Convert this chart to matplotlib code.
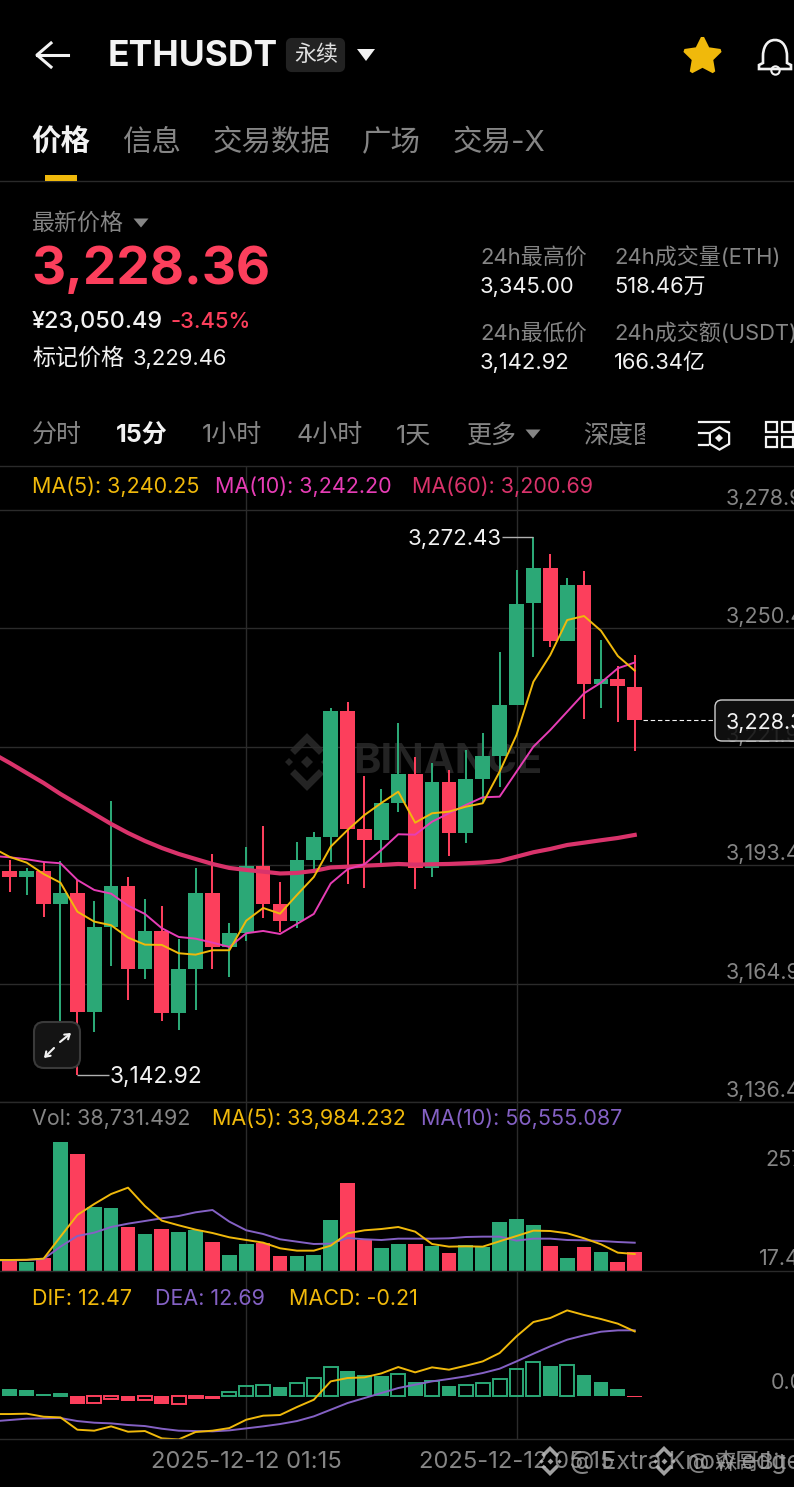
import numpy as np
import matplotlib
matplotlib.use("Agg")
import matplotlib.pyplot as plt
from matplotlib.patches import FancyBboxPatch, Rectangle, PathPatch
from matplotlib.path import Path

W, H = 794, 1487
FONT = ['Inter', 'Noto Sans CJK SC', 'DejaVu Sans']
plt.rcParams['font.family'] = FONT

GREEN = '#2BA876'
RED = '#FC3F5C'
GOLD = '#F0B90B'
PINK = '#E63DB5'
CRIMSON = '#D9336B'
PURPLE = '#8461C4'
GRID = '#2B2B2B'
GREY = '#858585'
WHITE = '#F2F2F2'

# first entry is the candle cut off by the left edge
candle_idx = np.arange(-1, 38)
opens = [3193.7, 3192.0, 3190.6, 3192.0, 3184.15, 3186.65, 3158.16, 3178.47, 3188.41, 3168.5,
         3177.58, 3157.92, 3168.5, 3186.8, 3173.8, 3177.17, 3193.22, 3184.15, 3179.98, 3194.59,
         3200.08, 3230.6, 3202.13, 3199.48, 3208.31, 3215.44, 3192.67, 3213.51, 3201.24, 3214.23,
         3219.77, 3231.9, 3256.6, 3265.01, 3247.44, 3260.92, 3237.02, 3238.3, 3236.4]
closes = [3192.0, 3190.6, 3192.0, 3184.15, 3186.65, 3158.16, 3178.47, 3188.41, 3168.5, 3177.58,
          3157.92, 3168.5, 3186.8, 3173.8, 3177.17, 3193.22, 3184.15, 3179.98, 3194.59, 3200.08,
          3230.6, 3202.13, 3199.48, 3208.31, 3215.44, 3192.67, 3213.51, 3201.24, 3214.23, 3219.77,
          3231.9, 3256.28, 3265.01, 3247.44, 3260.92, 3237.02, 3238.3, 3236.54, 3228.36]
highs = [3195.15, 3194.67, 3192.81, 3194.26, 3194.5, 3189.85, 3184.87, 3208.94, 3190.5, 3185.35,
         3183.52, 3175.58, 3192.81, 3196.04, 3179.58, 3197.87, 3202.85, 3189.37, 3198.93, 3201.33,
         3231.18, 3232.76, 3214.88, 3211.75, 3227.57, 3219.53, 3218.08, 3216.33, 3221.14, 3225.16,
         3244.8, 3264.46, 3272.43, 3268.24, 3262.46, 3264.22, 3247.61, 3241.43, 3244.0]
lows = [3189.85, 3186.96, 3186.24, 3181.02, 3148.53, 3142.92, 3153.2, 3169.23, 3160.97, 3166.03,
        3155.99, 3153.75, 3158.5, 3168.36, 3166.58, 3175.17, 3180.78, 3177.27, 3178.23, 3192.26,
        3194.11, 3188.82, 3188.0, 3193.63, 3206.29, 3187.61, 3190.65, 3195.63, 3198.68, 3208.38,
        3212.31, 3231.9, 3243.59, 3246.0, 3247.44, 3228.53, 3231.18, 3227.81, 3220.97]
ma5 = [3197.55, 3195.39, 3194.02, 3191.29, 3189.2, 3182.22, 3179.82, 3178.95, 3175.97, 3174.28,
       3174.21, 3172.21, 3171.87, 3172.93, 3172.93, 3180.06, 3183.11, 3181.74, 3186.24, 3190.57,
       3197.87, 3201.88, 3205.49, 3208.38, 3211.1, 3203.64, 3205.9, 3206.29, 3207.49, 3208.31,
       3215.92, 3224.75, 3237.57, 3244.0, 3252.42, 3253.39, 3249.85, 3243.76, 3240.25]
ma10 = [3195.63, 3195.31, 3194.83, 3194.18, 3193.87, 3189.85, 3187.44, 3186.55, 3183.67, 3181.67,
        3178.23, 3176.13, 3175.72, 3174.76, 3173.73, 3177.02, 3177.58, 3176.85, 3179.26, 3181.67,
        3189.01, 3192.43, 3193.63, 3197.07, 3200.85, 3200.75, 3203.88, 3205.9, 3207.9, 3209.75,
        3209.9, 3215.92, 3221.93, 3225.95, 3230.36, 3234.78, 3237.34, 3240.8, 3242.2]
ma60 = [3220.3, 3218.01, 3215.6, 3213.2, 3210.55, 3208.14, 3205.74, 3203.33, 3201.16, 3199.24,
        3197.55, 3196.11, 3194.9, 3193.7, 3192.74, 3192.26, 3191.85, 3191.41, 3191.54, 3192.02,
        3192.86, 3193.05, 3193.29, 3193.46, 3193.7, 3193.53, 3193.63, 3193.7, 3193.87, 3194.06,
        3194.42, 3195.46, 3196.52, 3197.31, 3198.27, 3198.83, 3199.41, 3199.96, 3200.69]

# volume, thousands
vol = [27, 19.3, 17.3, 26.7, 257.4, 233.3, 128.7, 125.4, 88, 74,
       84, 77.4, 81.4, 57.4, 31.3, 54.7, 55.4, 30, 29.3, 32.7,
       101.4, 175.4, 62, 45.4, 54, 53.4, 50, 36, 51.4, 48.7,
       98, 104.7, 92.7, 50.7, 26.7, 47.4, 38, 18.7, 38.73]
vol_ma5 = [22, 22, 22.5, 24.7, 68.7, 112, 134, 154, 166.7, 130,
           100.7, 91.4, 82.7, 76, 67.4, 62, 56.7, 45.4, 40.7, 40.7,
           50.7, 75.4, 81.4, 84, 88, 78.7, 54, 48.7, 49.4, 48.7,
           59.4, 70, 80.7, 80, 75.4, 65.4, 53.4, 36.7, 33.98]
vol_ma10 = [21.4, 21.4, 22, 24, 48.7, 70, 76.7, 88, 94.7, 100,
            105.4, 110, 117.4, 122, 98.7, 81.4, 74, 63.4, 58.7, 54,
            54.7, 66, 63.4, 62, 64.7, 64.7, 64.7, 65.4, 68, 68.7,
            68.7, 60.7, 64.7, 64.7, 62, 61.4, 60, 58, 56.56]

hist = [1.62, 1.23, 1.04, 0.39, 0.39, -1.62, -1.49, -0.58, -1.1, -0.91,
        -1.68, -1.68, -0.52, -0.55, 0.65, 1.81, 2.01, 1.68, 2.52, 3.36,
        5.63, 4.85, 3.95, 3.88, 4.14, 2.59, 2.78, 1.94, 2.14, 2.46,
        3.24, 5.18, 6.47, 5.76, 5.89, 3.95, 2.59, 1.36, -0.21]
dif = [-3.56, -3.56, -3.49, -4.08, -4.21, -6.6, -6.79, -5.95, -6.99, -6.86,
       -8.28, -8.48, -7.05, -6.79, -6.28, -4.66, -3.88, -3.75, -2.2, -0.78,
       2.78, 3.43, 3.56, 4.33, 5.56, 4.53, 5.5, 5.05, 5.82, 6.66,
       8.28, 11.52, 14.3, 15.08, 16.56, 15.66, 14.88, 13.98, 12.47]
dea = [-4.98, -4.72, -4.46, -4.4, -4.33, -4.92, -5.24, -5.37, -5.69, -5.89,
       -6.41, -6.79, -6.86, -6.92, -6.73, -6.34, -5.95, -5.5, -4.92, -4.01,
       -2.72, -1.42, -0.45, 0.52, 1.49, 2.14, 2.78, 3.24, 3.75, 4.4,
       5.24, 6.66, 8.15, 9.58, 10.87, 11.71, 12.42, 12.68, 12.69]

price_ticks = [3278.9, 3250.4, 3221.9, 3193.4, 3164.9, 3136.4]
price_labels = ['3,278.9', '3,250.4', '3,221.9', '3,193.4', '3,164.9', '3,136.4']
time_idx = [14, 30]
time_labels = ['2025-12-12 01:15', '2025-12-12 05:15']

opens, closes, highs, lows = map(np.array, (opens, closes, highs, lows))
up = closes >= opens
colors = np.where(up, GREEN, RED)

fig = plt.figure(figsize=(W / 100, H / 100), dpi=100, facecolor='black')


def pixel_axes(top, bottom, zorder):
    a = fig.add_axes([0, 1 - bottom / H, 1, (bottom - top) / H], zorder=zorder)
    a.patch.set_visible(False)
    a.set_axis_off()
    return a


def full_axes(zorder):
    a = pixel_axes(0, H, zorder)
    a.set_xlim(0, W)
    a.set_ylim(H, 0)
    return a


back = full_axes(0)
front = full_axes(5)


def txt(x, y, s, px, color=WHITE, weight='normal', ax=front, **kw):
    kw.setdefault('ha', 'left')
    return ax.text(x, y + 2, s, fontsize=px * 0.72, color=color, fontweight=weight,
                   va='center', family=FONT, **kw)


def tri(x, y, w, h, color):
    front.fill([x - w / 2, x + w / 2, x], [y - h / 2, y - h / 2, y + h / 2], color=color, lw=0)


def logo(a, x, y, s, color, zorder=1, alpha=1):
    """Binance mark, s is half the height"""
    opts = dict(color=color, alpha=alpha, zorder=zorder)
    for dx, dy, ms in [(0, 0, .32), (-.72, 0, .24), (.72, 0, .24)]:
        a.plot(x + dx * s, y + dy * s, 'D', ms=ms * s * .72, mew=0, **opts)
    lw = s * .2
    for sign in (-1, 1):
        a.plot([x - .48 * s, x, x + .48 * s],
               [y + sign * .48 * s, y + sign * .96 * s, y + sign * .48 * s],
               lw=lw, solid_joinstyle='miter', **opts)


# x position of a candle: 9.8 + 16.89 * i pixels
xlim = (-9.8 / 16.89, (W - 9.8) / 16.89)

# --- price panel
ax = pixel_axes(466, 1102, 1)
ax.set_xlim(*xlim)
ax.set_ylim(3136.4, 3289.5)
for p in price_ticks:
    ax.axhline(p, color=GRID, lw=1, zorder=0)
for t in time_idx:
    ax.axvline(t, color=GRID, lw=1, zorder=0)
ax.vlines(candle_idx, lows, highs, colors=colors, lw=1.45, zorder=2)
ax.bar(candle_idx, np.abs(closes - opens), bottom=np.minimum(opens, closes),
       width=0.87, color=colors, zorder=3)
ax.plot(candle_idx, ma60, color=CRIMSON, lw=3, zorder=4)
ax.plot(candle_idx, ma10, color=PINK, lw=1.4, zorder=5)
ax.plot(candle_idx, ma5, color=GOLD, lw=1.4, zorder=6)
ax.hlines(closes[-1], candle_idx[-1] + 0.47, 41.7, color=WHITE, lw=0.8,
          linestyles=(0, (4, 2.5)), zorder=3)
ax.hlines(highs.max(), 29.15, 31, color='#B0B0B0', lw=1, zorder=7)
ax.hlines(lows.min(), 4, 5.85, color='#B0B0B0', lw=1, zorder=7)
ax.annotate('3,272.43', xy=(31, highs.max()), xytext=(-32, -2), textcoords='offset pixels',
            color=WHITE, fontsize=16, ha='right', va='center', zorder=7)
ax.annotate('3,142.92', xy=(4, lows.min()), xytext=(32, -2), textcoords='offset pixels',
            color=WHITE, fontsize=16.3, ha='left', va='center', zorder=7)

# --- volume panel, 2k per pixel
ax_v = pixel_axes(1102, 1271, 1)
ax_v.set_xlim(*xlim)
ax_v.set_ylim(0, 338)
for t in time_idx:
    ax_v.axvline(t, color=GRID, lw=1, zorder=0)
ax_v.bar(candle_idx, vol, width=0.87, color=colors, zorder=2)
ax_v.plot(candle_idx, vol_ma10, color=PURPLE, lw=1.4, zorder=3)
ax_v.plot(candle_idx, vol_ma5, color=GOLD, lw=1.4, zorder=4)

# --- macd panel
ax_m = pixel_axes(1271, 1439.5, 1)
ax_m.set_xlim(*xlim)
ax_m.set_ylim(-8.5, 24.2)
for t in time_idx:
    ax_m.axvline(t, color=GRID, lw=1, zorder=0)
hist = np.array(hist)
rising = np.r_[False, hist[1:] >= hist[:-1]]
hist_colors = np.where(hist >= 0, GREEN, RED)
ax_m.bar(candle_idx[~rising], hist[~rising], width=0.87, color=hist_colors[~rising], zorder=2)
ax_m.bar(candle_idx[rising], hist[rising], width=0.82, facecolor='none',
         edgecolor=hist_colors[rising], lw=1.4, zorder=2)
ax_m.plot(candle_idx, dea, color=PURPLE, lw=1.4, zorder=3)
ax_m.plot(candle_idx, dif, color=GOLD, lw=1.4, zorder=4)

# panel separators
for y in (181, 466, 1102, 1271, 1439):
    front.plot([0, W], [y, y], color='#2A2A2A', lw=1, zorder=0)

# watermark behind the candles
logo(back, 307, 762, 25, '#242424')
txt(353, 760, 'BINANCE', 41.5, '#232323', 'bold', ax=back)

# --- header
front.plot([51, 37, 51], [43, 55, 67], color=WHITE, lw=2.2)
front.plot([37, 68], [55, 55], color=WHITE, lw=2.2)
txt(108, 55, 'ETHUSDT', 35.5, WHITE, 'bold')
front.add_patch(FancyBboxPatch((288, 40), 55, 30, boxstyle='round,pad=0,rounding_size=4',
                               fc='#222222', ec='#222222', lw=3))
txt(316, 53, '永续', 22, '#E0E0E0', ha='center')
tri(366, 55, 18, 12, WHITE)
front.plot(702, 56, marker=(5, 1, 0), color=GOLD, ms=27, mew=2.5, mec=GOLD, mfc=GOLD)
bell = Path([(775, 40), (766, 40), (763, 49), (763, 56), (763, 63), (759, 65), (759, 69),
             (791, 69), (791, 65), (787, 63), (787, 56), (787, 49), (784, 40), (775, 40)],
            [1, 4, 4, 4, 2, 2, 2, 2, 2, 2, 2, 4, 4, 4])
front.add_patch(PathPatch(bell, fc='none', ec=WHITE, lw=1.9))
front.plot(775, 70, 'o', mfc='none', mec=WHITE, ms=6, mew=1.5)

# --- tabs
for x, s, col, wt in [(31, '价格', WHITE, 'bold'), (122, '信息', GREY, 'normal'),
                      (213, '交易数据', GREY, 'normal'), (362, '广场', GREY, 'normal'),
                      (453, '交易-X', GREY, 'normal')]:
    txt(x, 141, s, 29.5, col, wt)
front.add_patch(Rectangle((45, 175), 32, 6, fc=GOLD, ec='none'))

# --- price block
txt(32, 222, '最新价格', 23, GREY)
tri(141, 223, 15, 9, GREY)
txt(31, 268, '3,228.36', 53, RED, 'bold')
txt(32, 320, '¥23,050.49', 23.5, WHITE, 'medium')
txt(171, 320, '-3.45%', 22, RED, 'medium')
txt(32, 357, '标记价格', 23, WHITE)
txt(133, 357, '3,229.46', 22, WHITE)

for x, y, s, col in [(480, 255, '24h最高价', GREY), (480, 285, '3,345.00', WHITE),
                     (480, 331, '24h最低价', GREY), (480, 361, '3,142.92', WHITE),
                     (614, 255, '24h成交量(ETH)', GREY), (614, 285, '518.46万', WHITE),
                     (614, 331, '24h成交额(USDT)', GREY), (614, 361, '166.34亿', WHITE)]:
    txt(x, y, s, 22, col)

# --- interval row
for x, s, col, wt in [(32, '分时', GREY, 'normal'), (116, '15分', WHITE, 'bold'),
                      (202, '1小时', GREY, 'normal'), (297, '4小时', GREY, 'normal'),
                      (396, '1天', GREY, 'normal'), (467, '更多', GREY, 'normal')]:
    txt(x, 434, s, 25, col, wt)
t = txt(583, 434, '深度图', 25, GREY, clip_on=True)
t.set_clip_path(Rectangle((0, 0), 645, H, transform=front.transData))
tri(533, 434, 15, 9, GREY)
for y, x0, x1 in [(422, 699, 729), (433, 699, 708), (445, 699, 708)]:
    front.plot([x0, x1], [y, y], color=WHITE, lw=1.6)
front.plot(719, 438, 'h', mfc='none', mec=WHITE, ms=16, mew=1.6)
front.plot(719, 438, 'D', color=WHITE, ms=4, mew=0)
for x in (766, 782):
    for y in (422, 437):
        front.add_patch(Rectangle((x, y), 11, 10, fc='none', ec=WHITE, lw=1.6))

# --- legends
for x, y, s, col in [(32, 485, 'MA(5): 3,240.25', GOLD), (215, 485, 'MA(10): 3,242.20', PINK),
                     (412, 485, 'MA(60): 3,200.69', CRIMSON),
                     (32, 1117, 'Vol: 38,731.492', GREY), (212, 1117, 'MA(5): 33,984.232', GOLD),
                     (421, 1117, 'MA(10): 56,555.087', PURPLE),
                     (32, 1297, 'DIF: 12.47', GOLD), (155, 1297, 'DEA: 12.69', PURPLE),
                     (289, 1297, 'MACD: -0.21', GOLD)]:
    txt(x, y, s, 21.5, col)

# --- axis labels, cut by the right edge like the app does
for p, s in zip(price_ticks, price_labels):
    y = 510 + (price_ticks[0] - p) * 4.155
    txt(726, y - 13, s, 21.5, GREY)
txt(765, 1158, '257', 21.5, GREY)
txt(759, 1257, '17.4', 21.5, GREY)
txt(771, 1381, '0.0', 21.5, GREY)
for i, s in zip(time_idx, time_labels):
    txt(9.8 + 16.89 * i, 1460, s, 23.7, GREY, ha='center')

# current price tag
front.add_patch(FancyBboxPatch((715, 700), 100, 41, boxstyle='round,pad=0,rounding_size=7',
                               fc=(.07, .07, .07, .85), ec='#CFCFCF', lw=1, zorder=6))
txt(726, 721, '3,228.3', 21.5, WHITE, zorder=7)

# expand button
front.add_patch(FancyBboxPatch((34, 1022), 46, 46, boxstyle='round,pad=0,rounding_size=10',
                               fc='#141414', ec='#3A3A3A', lw=1.5, zorder=6))
for (x0, y0, x1, y1) in [(60, 1042, 71, 1033), (54, 1048, 44, 1058)]:
    front.annotate('', xy=(x1, y1), xytext=(x0, y0), zorder=7,
                   arrowprops=dict(arrowstyle='->,head_length=.32,head_width=.22', color=WHITE,
                                   lw=1.5, shrinkA=0, shrinkB=0))

# re-shared post watermark
logo(front, 550, 1461, 13, '#BDBDBD', zorder=7, alpha=.85)
txt(570, 1460, '@ Extra Knowledge', 25, '#A8A8A8', zorder=7, alpha=.8)
logo(front, 664, 1461, 13, '#BDBDBD', zorder=7, alpha=.85)
txt(688, 1460, '@ 森哥Bit', 22, '#A8A8A8', zorder=7, alpha=.8)

fig.savefig('out.png', dpi=100, facecolor='black')
